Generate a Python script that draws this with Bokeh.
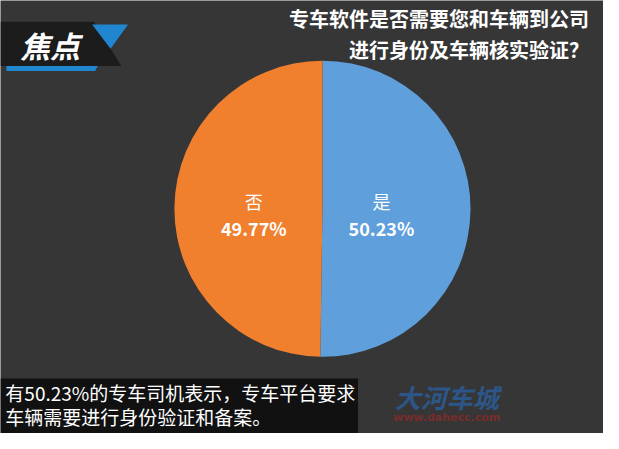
import math
from bokeh.plotting import figure
from bokeh.models import Range1d, ColumnDataSource
from bokeh.core.properties import value
from bokeh.embed import file_html
from bokeh.resources import INLINE

# Data
categories = ["是", "否"]
shares = [50.23, 49.77]
colors = ["#5e9fdc", "#f07f2e"]
title_lines = ["专车软件是否需要您和车辆到公司", "进行身份及车辆核实验证？"]
caption_lines = ["有50.23%的专车司机表示，专车平台要求", "车辆需要进行身份验证和备案。"]

W, H = 619, 449
FONT = value("Noto Sans CJK SC")

p = figure(width=603, height=433, x_range=Range1d(0, W), y_range=Range1d(0, H),
           output_backend="svg", toolbar_location=None, min_border=0)
p.axis.visible = False
p.grid.visible = False
p.outline_line_color = None
p.background_fill_color = "#363636"
p.border_fill_color = "#363636"

def Y(y):
    return H - y

# Pie
total = sum(shares)
starts, ends = [], []
ang = math.pi / 2
for s in shares:
    starts.append(ang)
    ang -= 2 * math.pi * s / total
    ends.append(ang)
src = ColumnDataSource(dict(cat=categories, share=shares, color=colors, start=starts, end=ends))
cx, cy, R = 330.5, Y(216), 152
p.wedge(x=cx, y=cy, radius=R, start_angle="start", end_angle="end", direction="clock",
        fill_color="color", line_color=None, source=src)

# Labels
lx = [391, 260]
p.text(x=lx, y=[Y(208)] * 2, text=categories, text_color="white", text_font=FONT,
       text_font_size="18px", text_align="center", text_baseline="middle")
p.text(x=lx, y=[Y(236)] * 2, text=[f"{s:.2f}%" for s in shares], text_color="white",
       text_font=FONT, text_font_size="18px", text_font_style="bold",
       text_align="center", text_baseline="middle")

# Logo
p.patch(x=[0, 96, 124, 0], y=[Y(22), Y(22), Y(68), Y(68)], fill_color="#1c1c1c", line_color=None)
p.patch(x=[94, 131, 113], y=[Y(25), Y(25), Y(50)], fill_color="#1f86cf", line_color=None)
p.patch(x=[6, 100, 97, 6], y=[Y(68), Y(68), Y(73), Y(73)], fill_color="#1f86cf", line_color=None)
p.text(x=[20], y=[Y(46)], text=["焦点"], text_color="white", text_font=FONT,
       text_font_size="30px", text_font_style="bold italic", text_baseline="middle")

# Title
p.text(x=[604, 604], y=[Y(19), Y(51)], text=title_lines, text_color="white", text_font=FONT,
       text_font_size="20px", text_font_style="bold", text_align="right", text_baseline="middle")

# Caption box
p.patch(x=[0, 367, 367, 0], y=[Y(392), Y(392), Y(449), Y(449)], fill_color="#111111", line_color=None)
p.text(x=[5, 5], y=[Y(407), Y(431)], text=caption_lines, text_color="white", text_font=FONT,
       text_font_size="19px", text_align="left", text_baseline="middle")

# Watermark
p.text(x=[458], y=[Y(411)], text=["大河车城"], text_color="#2a5f9e", text_font=FONT,
       text_font_size="26px", text_font_style="bold italic", text_align="center", text_baseline="middle",
       text_alpha=0.8)
p.text(x=[458], y=[Y(432)], text=["www.dahecc.com"], text_color="#8a2a2a", text_font=value("DejaVu Sans"),
       text_font_size="11px", text_font_style="bold", text_align="center", text_baseline="middle",
       text_alpha=0.8)

open("out.html", "w").write(file_html(p, INLINE))
